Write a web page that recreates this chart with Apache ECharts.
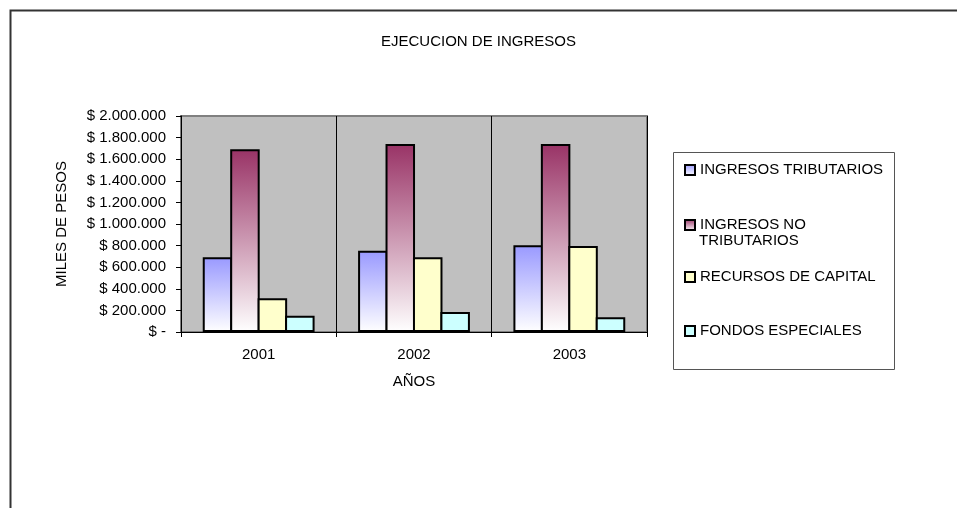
<!DOCTYPE html>
<html>
<head>
<meta charset="utf-8">
<script src="https://cdn.jsdelivr.net/npm/echarts@6/dist/echarts.min.js"></script>
<style>
html,body{margin:0;padding:0;background:#fff;}
#chart{width:957px;height:508px;}
</style>
</head>
<body>
<div id="chart"></div>
<script>
const categories = ['2001', '2002', '2003'];
const ingresosTributarios = [691000, 753000, 803000];
const ingresosNoTributarios = [1692000, 1741000, 1741000];
const recursosCapital = [312000, 691000, 796000];
const fondosEspeciales = [151000, 185000, 136000];
const seriesNames = ['INGRESOS TRIBUTARIOS', 'INGRESOS NO TRIBUTARIOS', 'RECURSOS DE CAPITAL', 'FONDOS ESPECIALES'];
const yTicks = [0, 200000, 400000, 600000, 800000, 1000000, 1200000, 1400000, 1600000, 1800000, 2000000];

const FONT = 'Liberation Sans, Arial, sans-serif';
const FS = 15;
function grad(top) {
  return new echarts.graphic.LinearGradient(0, 0, 0, 1, [
    { offset: 0, color: top },
    { offset: 1, color: '#FFFFFF' }
  ]);
}
function fmt(v) {
  if (v === 0) return '$ -';
  return '$ ' + String(Math.round(v)).replace(/\B(?=(\d{3})+(?!\d))/g, '.');
}
const colors = [grad('#9999FF'), grad('#993366'), '#FFFFCC', '#CCFFFF'];
const dataArr = [ingresosTributarios, ingresosNoTributarios, recursosCapital, fondosEspeciales];
const legendTops = [162, 217, 269, 323];

const chart = echarts.init(document.getElementById('chart'));
chart.setOption({
  backgroundColor: '#FFFFFF',
  animation: false,
  title: {
    text: 'EJECUCION DE INGRESOS',
    left: 'center',
    top: 29,
    textStyle: { fontFamily: FONT, fontSize: FS, fontWeight: 'normal', color: '#000' }
  },
  graphic: [
    { type: 'rect', shape: { x: 10.5, y: 10.5, width: 1000, height: 600 }, style: { fill: 'none', stroke: '#333', lineWidth: 2 }, z: -1 },
    { type: 'rect', shape: { x: 673.5, y: 152.5, width: 221, height: 217 }, style: { fill: 'none', stroke: '#555', lineWidth: 1 }, z: -1 },
    { type: 'text', left: 699, top: 233, style: { text: 'TRIBUTARIOS', font: FS + 'px ' + FONT, fill: '#000' } }
  ],
  legend: seriesNames.map((n, i) => ({
    data: [n],
    orient: 'vertical',
    left: 684,
    top: legendTops[i],
    itemWidth: 10,
    itemHeight: 10,
    padding: 0,
    icon: 'rect',
    selectedMode: false,
    formatter: (name) => name === 'INGRESOS NO TRIBUTARIOS' ? 'INGRESOS NO' : name,
    itemStyle: { borderColor: '#000', borderWidth: 2 },
    textStyle: { fontFamily: FONT, fontSize: FS, color: '#000', lineHeight: 16 }
  })),
  grid: {
    left: 181, top: 116, width: 466, height: 216,
    show: true, backgroundColor: '#C0C0C0', borderColor: '#808080', borderWidth: 2
  },
  xAxis: {
    type: 'category',
    data: categories,
    name: 'AÑOS',
    nameLocation: 'middle',
    nameGap: 42,
    nameTextStyle: { fontFamily: FONT, fontSize: FS, color: '#000' },
    axisLine: { lineStyle: { color: '#000', width: 1 } },
    axisTick: { show: true, length: 5, lineStyle: { color: '#000' } },
    axisLabel: { fontFamily: FONT, fontSize: FS, color: '#000', margin: 15 },
    splitLine: { show: true, lineStyle: { color: '#000', width: 1 } }
  },
  yAxis: {
    type: 'value',
    min: 0, max: 2000000, interval: 200000,
    name: 'MILES DE PESOS',
    nameLocation: 'middle',
    nameGap: 112,
    nameRotate: 90,
    nameTextStyle: { fontFamily: FONT, fontSize: FS, color: '#000' },
    axisLine: { show: true, lineStyle: { color: '#000', width: 1 } },
    axisTick: { show: true, length: 5, lineStyle: { color: '#000' } },
    axisLabel: { fontFamily: FONT, fontSize: FS, color: '#000', margin: 15, formatter: fmt },
    splitLine: { show: false }
  },
  series: seriesNames.map((n, i) => ({
    name: n,
    type: 'bar',
    data: dataArr[i],
    barGap: '-7%',
    barCategoryGap: '28%',
    itemStyle: { color: colors[i], borderColor: '#000', borderWidth: 2 }
  }))
});
</script>
</body>
</html>
